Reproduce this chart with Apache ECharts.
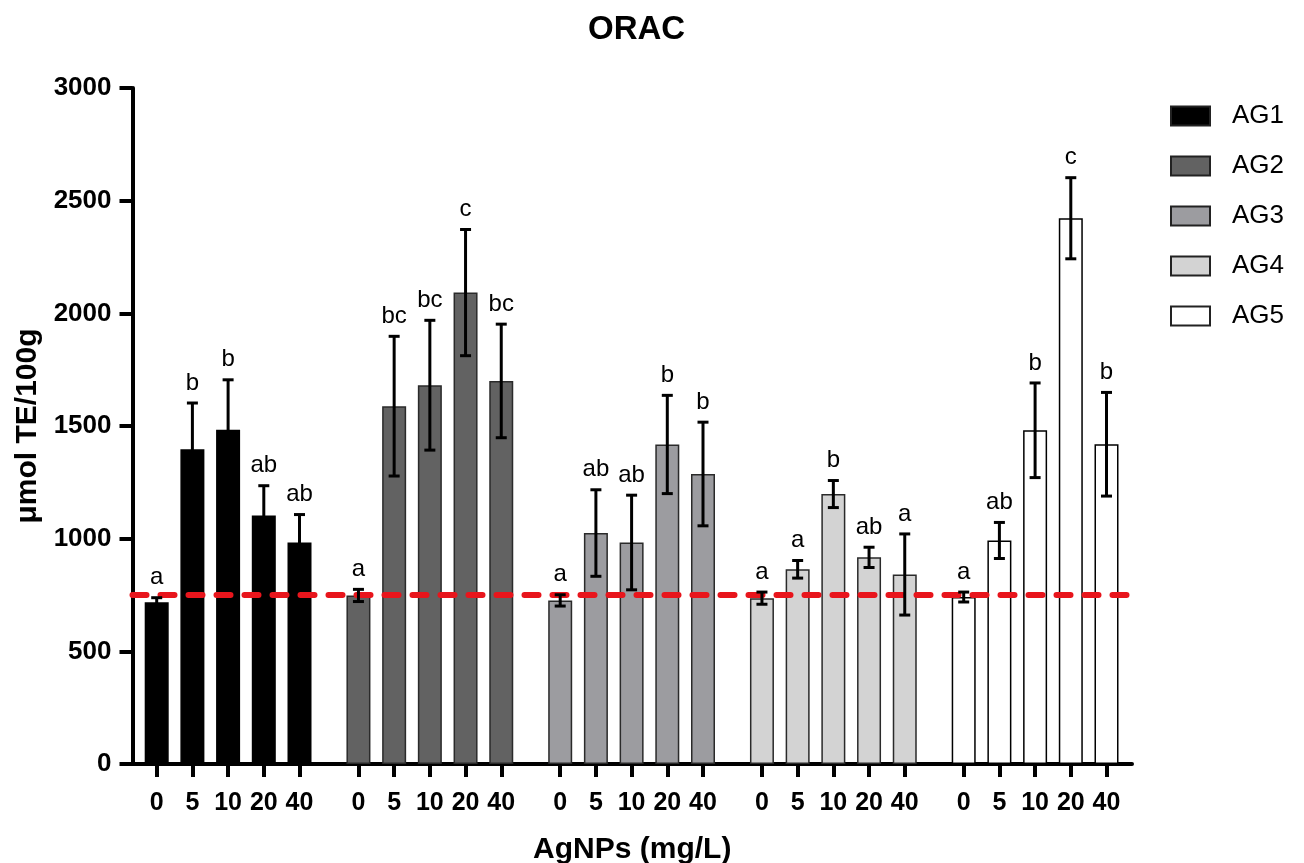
<!DOCTYPE html>
<html>
<head>
<meta charset="utf-8">
<title>ORAC</title>
<script src="https://cdn.jsdelivr.net/npm/echarts@6/dist/echarts.min.js"></script>
<style>
  html, body { margin: 0; padding: 0; background: #fff; }
  #chart { width: 1304px; height: 863px; }
</style>
</head>
<body>
<div id="chart"></div>
<script>
// concentrations on the x axis (mg/L)
const doses = ['0', '5', '10', '20', '40']
const groups = ['AG1', 'AG2', 'AG3', 'AG4', 'AG5']

// mean and SD of ORAC (µmol TE/100g)
const ag1Mean = [718, 1397, 1483, 1103, 983]
const ag1Sd = [20, 205, 222, 132, 124]
const ag1Letters = ['a', 'b', 'b', 'ab', 'ab']

const ag2Mean = [748, 1588, 1681, 2092, 1700]
const ag2Sd = [27, 310, 288, 280, 252]
const ag2Letters = ['a', 'bc', 'bc', 'c', 'bc']

const ag3Mean = [726, 1025, 983, 1418, 1287]
const ag3Sd = [25, 192, 210, 218, 230]
const ag3Letters = ['a', 'ab', 'ab', 'b', 'b']

const ag4Mean = [736, 864, 1198, 917, 841]
const ag4Sd = [27, 39, 60, 45, 180]
const ag4Letters = ['a', 'a', 'b', 'ab', 'a']

const ag5Mean = [741, 992, 1481, 2422, 1419]
const ag5Sd = [22, 80, 210, 180, 230]
const ag5Letters = ['a', 'ab', 'b', 'c', 'b']

const controlLevel = 750

const groupMeans = [ag1Mean, ag2Mean, ag3Mean, ag4Mean, ag5Mean]
const groupSds = [ag1Sd, ag2Sd, ag3Sd, ag4Sd, ag5Sd]
const groupLetters = [ag1Letters, ag2Letters, ag3Letters, ag4Letters, ag5Letters]

const fills = ['#000000', '#626262', '#9c9ca0', '#d3d3d3', '#ffffff']
const FONT = '"Liberation Sans", Arial, sans-serif'

// layout
const plotTop = 88
const plotHeight = 676
const plotLeft = 132.5
const plotWidth = 999.5
const slot = 35.7
const firstGroupLeft = 138.85
const groupStep = 201.75

function errorBars(letters) {
  return function (params, api) {
    const i = api.value(0)
    const m = api.value(1)
    const s = api.value(2)
    const top = api.coord([i, m + s])
    const bot = api.coord([i, m - s])
    const hw = 5.5
    const st = { stroke: '#000', lineWidth: 3 }
    return {
      type: 'group',
      children: [
        { type: 'line', shape: { x1: top[0], y1: top[1], x2: bot[0], y2: bot[1] }, style: st },
        { type: 'line', shape: { x1: top[0] - hw, y1: top[1], x2: top[0] + hw, y2: top[1] }, style: st },
        { type: 'line', shape: { x1: bot[0] - hw, y1: bot[1], x2: bot[0] + hw, y2: bot[1] }, style: st },
        {
          type: 'text', x: top[0], y: top[1] - 8,
          style: { text: letters[i], font: '24px ' + FONT, fill: '#000', align: 'center', verticalAlign: 'bottom' }
        }
      ]
    }
  }
}

const grids = [{ left: plotLeft, top: plotTop, width: plotWidth, height: plotHeight, outerBoundsMode: 'none' }]
const xAxes = [{
  type: 'value', gridIndex: 0, min: 0, max: 1,
  axisLine: { show: true, lineStyle: { color: '#000', width: 4 } },
  axisTick: { show: false }, axisLabel: { show: false }, splitLine: { show: false },
  name: 'AgNPs (mg/L)', nameLocation: 'middle', nameGap: 71,
  nameTextStyle: { fontFamily: FONT, fontWeight: 'bold', fontSize: 30, color: '#000' }
}]
const yAxes = [{
  type: 'value', gridIndex: 0, min: 0, max: 3000, interval: 500,
  axisLine: { show: true, lineStyle: { color: '#000', width: 4 } },
  axisTick: { show: true, length: 13, lineStyle: { color: '#000', width: 4 } },
  axisLabel: {
    fontFamily: FONT, fontWeight: 'bold', fontSize: 26, color: '#000', margin: 21,
    formatter: v => String(v)
  },
  splitLine: { show: false },
  name: 'μmol TE/100g', nameLocation: 'middle', nameGap: 90,
  nameTextStyle: { fontFamily: FONT, fontWeight: 'bold', fontSize: 30, color: '#000' }
}]
const series = [{
  type: 'line', xAxisIndex: 0, yAxisIndex: 0,
  data: [[0, controlLevel], [1, controlLevel]],
  showSymbol: false, silent: true, z: 3,
  lineStyle: { color: '#e8151c', width: 6, type: [14, 14], cap: 'round' }
}]

groups.forEach((g, k) => {
  const idx = k + 1
  grids.push({
    left: firstGroupLeft + k * groupStep, top: plotTop, width: 5 * slot, height: plotHeight,
    outerBoundsMode: 'none'
  })
  xAxes.push({
    type: 'category', gridIndex: idx, data: doses,
    axisLine: { show: false },
    axisTick: { show: true, alignWithLabel: true, length: 13, lineStyle: { color: '#000', width: 4 } },
    axisLabel: { interval: 0, fontFamily: FONT, fontWeight: 'bold', fontSize: 25, color: '#000', margin: 27 }
  })
  yAxes.push({ type: 'value', gridIndex: idx, min: 0, max: 3000, show: false, splitLine: { show: false } })
  series.push({
    name: g, type: 'bar', xAxisIndex: idx, yAxisIndex: idx,
    data: groupMeans[k], barWidth: 24, z: 2,
    itemStyle: { color: fills[k], borderColor: k === 0 || k === 4 ? '#000' : '#2a2a2a', borderWidth: 1.5 }
  })
  series.push({
    type: 'custom', xAxisIndex: idx, yAxisIndex: idx, z: 4, silent: true,
    data: doses.map((d, i) => [i, groupMeans[k][i], groupSds[k][i]]),
    renderItem: errorBars(groupLetters[k])
  })
})

const chart = echarts.init(document.getElementById('chart'))
chart.setOption({
  animation: false,
  backgroundColor: '#fff',
  title: {
    text: 'ORAC', left: 583, top: 8,
    textStyle: { fontFamily: FONT, fontWeight: 'bold', fontSize: 33, color: '#000' }
  },
  legend: {
    data: groups, orient: 'vertical', left: 1170, top: 103, padding: 0,
    itemWidth: 39, itemHeight: 19, itemGap: 24, icon: 'rect',
    itemStyle: { borderColor: '#222', borderWidth: 2 },
    textStyle: { fontFamily: FONT, fontSize: 26, color: '#000', padding: [0, 0, 0, 17] }
  },
  grid: grids,
  xAxis: xAxes,
  yAxis: yAxes,
  series: series
})
</script>
</body>
</html>
